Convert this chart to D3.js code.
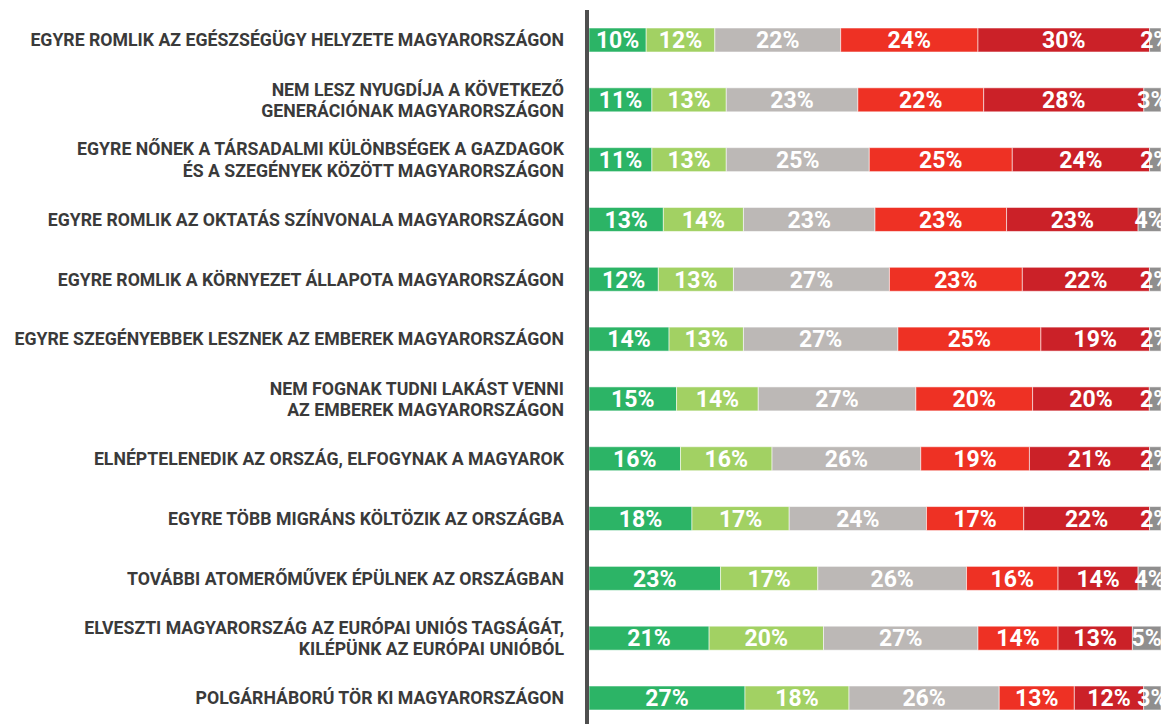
<!DOCTYPE html>
<html>
<head>
    <meta charset="utf-8">
    <title>Stacked bars</title>
    <script src="https://d3js.org/d3.v7.min.js"></script>
    <style>
        body { margin: 0; background: #fff; }
    </style>
</head>
<body>
<div id="chart"></div>
<script type="text/javascript">

    // kategóriák (a sortörés helyét "|" jelöli)
    let categories = [
        "EGYRE ROMLIK AZ EGÉSZSÉGÜGY HELYZETE MAGYARORSZÁGON",
        "NEM LESZ NYUGDÍJA A KÖVETKEZŐ|GENERÁCIÓNAK MAGYARORSZÁGON",
        "EGYRE NŐNEK A TÁRSADALMI KÜLÖNBSÉGEK A GAZDAGOK|ÉS A SZEGÉNYEK KÖZÖTT MAGYARORSZÁGON",
        "EGYRE ROMLIK AZ OKTATÁS SZÍNVONALA MAGYARORSZÁGON",
        "EGYRE ROMLIK A KÖRNYEZET ÁLLAPOTA MAGYARORSZÁGON",
        "EGYRE SZEGÉNYEBBEK LESZNEK AZ EMBEREK MAGYARORSZÁGON",
        "NEM FOGNAK TUDNI LAKÁST VENNI|AZ EMBEREK MAGYARORSZÁGON",
        "ELNÉPTELENEDIK AZ ORSZÁG, ELFOGYNAK A MAGYAROK",
        "EGYRE TÖBB MIGRÁNS KÖLTÖZIK AZ ORSZÁGBA",
        "TOVÁBBI ATOMERŐMŰVEK ÉPÜLNEK AZ ORSZÁGBAN",
        "ELVESZTI MAGYARORSZÁG AZ EURÓPAI UNIÓS TAGSÁGÁT,|KILÉPÜNK AZ EURÓPAI UNIÓBÓL",
        "POLGÁRHÁBORÚ TÖR KI MAGYARORSZÁGON"
    ];

    // sorozatok, balról jobbra
    let s1 = [10, 11, 11, 13, 12, 14, 15, 16, 18, 23, 21, 27];
    let s2 = [12, 13, 13, 14, 13, 13, 14, 16, 17, 17, 20, 18];
    let s3 = [22, 23, 25, 23, 27, 27, 27, 26, 24, 26, 27, 26];
    let s4 = [24, 22, 25, 23, 23, 25, 20, 19, 17, 16, 14, 13];
    let s5 = [30, 28, 24, 23, 22, 19, 20, 21, 22, 14, 13, 12];
    let s6 = [2, 3, 2, 4, 2, 2, 2, 2, 2, 4, 5, 3];

    let seriesKeys = ["s1", "s2", "s3", "s4", "s5", "s6"];
    let seriesColors = ["#2cb466", "#a2d163", "#bcb8b6", "#ee3124", "#cb2128", "#8f8e8e"];

    let width = 1163, height = 724;
    let barLeft = 589, barRight = 1161;
    let barH = 24;

    let data = categories.map(function(c, i) {
        return {cat: c, s1: s1[i], s2: s2[i], s3: s3[i], s4: s4[i], s5: s5[i], s6: s6[i]};
    });

    let svg = d3.select("#chart")
        .append("svg")
            .attr("width", width)
            .attr("height", height);

    let xScale = d3.scaleLinear()
        .domain([0, 1])
        .range([barLeft, barRight]);

    let yScale = d3.scalePoint()
        .domain(categories)
        .range([40, 698]);

    let color = d3.scaleOrdinal()
        .domain(seriesKeys)
        .range(seriesColors);

    // 100%-os halmozás
    let stacked = d3.stack()
        .keys(seriesKeys)
        .offset(d3.stackOffsetExpand)(data);

    let layers = svg.selectAll("g.layer")
        .data(stacked)
        .enter()
        .append("g")
            .attr("class", "layer")
            .attr("fill", function(d) { return color(d.key); });

    layers.selectAll("rect")
        .data(function(d) { return d; })
        .enter()
        .append("rect")
            .attr("x", function(d) { return xScale(d[0]); })
            .attr("y", function(d) { return yScale(d.data.cat) - barH / 2; })
            .attr("width", function(d) { return xScale(d[1]) - xScale(d[0]); })
            .attr("height", barH)
            .attr("stroke", "rgba(255,255,255,0.55)")
            .attr("stroke-width", 1);

    // százalék feliratok
    layers.each(function(layer) {
        d3.select(this).selectAll("text")
            .data(layer)
            .enter()
            .append("text")
                .attr("x", function(d) { return (xScale(d[0]) + xScale(d[1])) / 2; })
                .attr("y", function(d) { return yScale(d.data.cat); })
                .attr("dy", "0.36em")
                .attr("text-anchor", "middle")
                .attr("font-family", "Roboto, sans-serif")
                .attr("font-weight", "bold")
                .attr("font-size", "23px")
                .attr("fill", "#fff")
                .text(function(d) { return d.data[layer.key] + "%"; });
    });

    // kategória címkék
    let labels = svg.append("g")
        .selectAll("text")
        .data(categories)
        .enter()
        .append("text")
            .attr("x", 564)
            .attr("y", function(d) { return yScale(d); })
            .attr("text-anchor", "end")
            .attr("font-family", "Roboto, sans-serif")
            .attr("font-weight", "bold")
            .attr("font-size", "17.7px")
            .attr("fill", "#3a3a3a");

    labels.each(function(d) {
        let lines = d.split("|");
        let t = d3.select(this);
        lines.forEach(function(line, i) {
            t.append("tspan")
                .attr("x", 564)
                .attr("dy", i === 0 ? (0.36 - (lines.length - 1) * 0.6) + "em" : "1.2em")
                .text(line);
        });
    });

    // függőleges tengelyvonal
    svg.append("line")
        .attr("x1", 587)
        .attr("x2", 587)
        .attr("y1", 10)
        .attr("y2", height)
        .attr("stroke", "#4f4f4f")
        .attr("stroke-width", 4);

</script>
</body>
</html>
